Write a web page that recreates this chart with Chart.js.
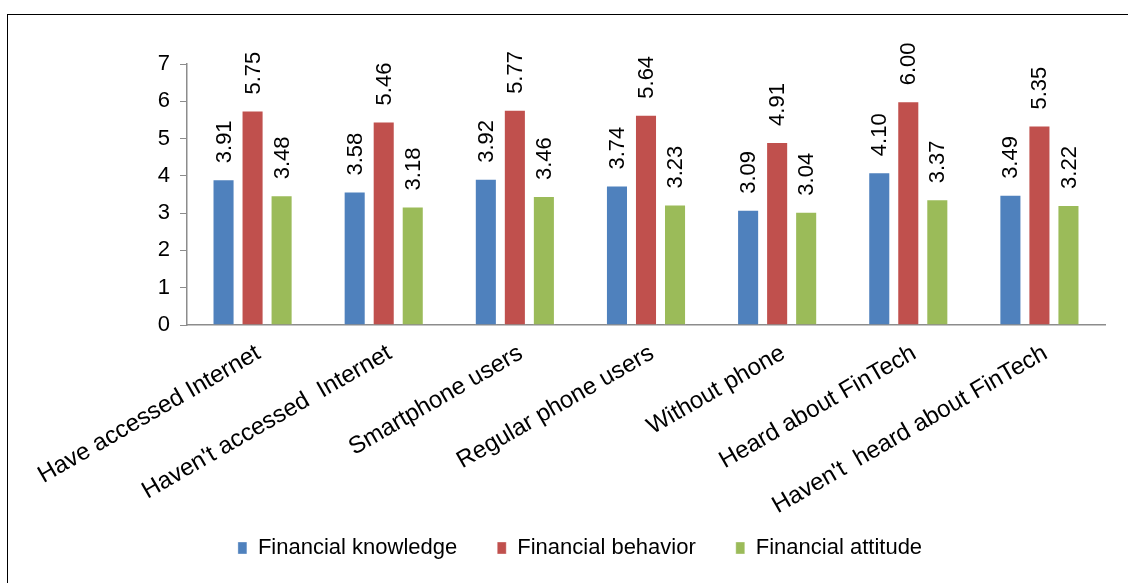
<!DOCTYPE html>
<html>
<head>
<meta charset="utf-8">
<script src="https://cdn.jsdelivr.net/npm/chart.js@4"></script>
<style>
  html, body { margin: 0; padding: 0; background: #fff; }
  #wrap { position: relative; width: 1128px; height: 583px; overflow: hidden; }
  #frame { position: absolute; left: 7px; top: 14px; right: -10px; bottom: -10px; border-top: 1px solid #000; border-left: 1px solid #000; }
  #chart { position: absolute; left: 0; top: 0; }
</style>
</head>
<body>
<div id="wrap">
  <div id="frame"></div>
  <canvas id="chart" width="1128" height="583"></canvas>
</div>
<script>
const categories = [
  "Have accessed Internet",
  "Haven't accessed  Internet",
  "Smartphone users",
  "Regular phone users",
  "Without phone",
  "Heard about FinTech",
  "Haven't  heard about FinTech"
];
const knowledge = [3.91, 3.58, 3.92, 3.74, 3.09, 4.10, 3.49];
const behavior = [5.75, 5.46, 5.77, 5.64, 4.91, 6.00, 5.35];
const attitude = [3.48, 3.18, 3.46, 3.23, 3.04, 3.37, 3.22];
const yTicks = [0, 1, 2, 3, 4, 5, 6, 7];

const FONT = "'Liberation Sans', Arial, sans-serif";
Chart.defaults.font.family = FONT;
Chart.defaults.color = "#000";

// values written vertically above each bar
const barValues = {
  id: "barValues",
  afterLayout(chart) {
    // let the rotated category labels run past the legend top without being clipped
    chart.scales.x.bottom += 30;
  },
  afterDatasetsDraw(chart) {
    const ctx = chart.ctx;
    ctx.save();
    ctx.font = `22px ${FONT}`;
    ctx.fillStyle = "#000";
    ctx.textAlign = "left";
    ctx.textBaseline = "middle";
    chart.data.datasets.forEach((ds, i) => {
      chart.getDatasetMeta(i).data.forEach((bar, j) => {
        ctx.save();
        ctx.translate(bar.x + 1, bar.y - 16);
        ctx.rotate(-Math.PI / 2);
        ctx.fillText(ds.data[j].toFixed(2), 0, 0);
        ctx.restore();
      });
    });
    ctx.restore();
  }
};

function makeSet(label, data, color) {
  return {
    label,
    data,
    backgroundColor: color,
    borderColor: "rgba(255,255,255,0.35)",
    borderWidth: 1,
    categoryPercentage: 0.664,
    barPercentage: 0.76
  };
}

new Chart(document.getElementById("chart"), {
  type: "bar",
  data: {
    labels: categories,
    datasets: [
      makeSet("Financial knowledge", knowledge, "#4F81BD"),
      makeSet("Financial behavior", behavior, "#C0504D"),
      makeSet("Financial attitude", attitude, "#9BBB59")
    ]
  },
  options: {
    responsive: false,
    animation: false,
    layout: { padding: { left: 55, right: 23, top: 64, bottom: 14 } },
    plugins: {
      tooltip: { enabled: false },
      legend: {
        position: "bottom",
        labels: {
          font: { size: 22 },
          color: "#000",
          boxWidth: 9,
          boxHeight: 12,
          padding: 40
        }
      }
    },
    scales: {
      x: {
        grid: { drawOnChartArea: false, drawTicks: false },
        border: { color: "#8c8c8c", width: 1.5 },
        ticks: {
          autoSkip: false,
          minRotation: 30,
          maxRotation: 30,
          padding: 14,
          labelOffset: 6,
          font: { size: 24 },
          color: "#000"
        },
        afterFit(scale) { scale.height = 172; }
      },
      y: {
        min: 0,
        max: 7,
        afterBuildTicks(scale) { scale.ticks = yTicks.map((v) => ({ value: v })); },
        grid: { drawOnChartArea: false, drawTicks: true, tickLength: 7, color: "#8c8c8c" },
        border: { color: "#8c8c8c", width: 1.5 },
        ticks: { padding: 10, font: { size: 22 }, color: "#000" },
        afterFit(scale) { scale.width = 132; }
      }
    }
  },
  plugins: [barValues]
});
</script>
</body>
</html>
